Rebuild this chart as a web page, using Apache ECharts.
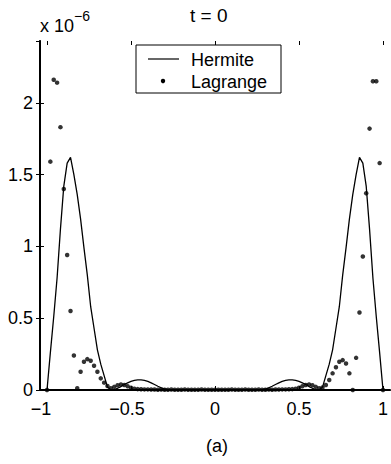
<!DOCTYPE html>
<html>
<head>
<meta charset="utf-8">
<script src="https://cdn.jsdelivr.net/npm/echarts@6/dist/echarts.min.js"></script>
<style>
  html, body { margin: 0; padding: 0; background: #fff; }
  #chart { width: 391px; height: 464px; }
</style>
</head>
<body>
<div id="chart"></div>
<script>
// Sample points on [-1, 1], step 0.02
const xGrid = [
  -1.00, -0.98, -0.96, -0.94, -0.92, -0.90, -0.88, -0.86, -0.84, -0.82,
  -0.80, -0.78, -0.76, -0.74, -0.72, -0.70, -0.68, -0.66, -0.64, -0.62,
  -0.60, -0.58, -0.56, -0.54, -0.52, -0.50, -0.48, -0.46, -0.44, -0.42,
  -0.40, -0.38, -0.36, -0.34, -0.32, -0.30, -0.28, -0.26, -0.24, -0.22,
  -0.20, -0.18, -0.16, -0.14, -0.12, -0.10, -0.08, -0.06, -0.04, -0.02,
   0.00,
   0.02,  0.04,  0.06,  0.08,  0.10,  0.12,  0.14,  0.16,  0.18,  0.20,
   0.22,  0.24,  0.26,  0.28,  0.30,  0.32,  0.34,  0.36,  0.38,  0.40,
   0.42,  0.44,  0.46,  0.48,  0.50,  0.52,  0.54,  0.56,  0.58,  0.60,
   0.62,  0.64,  0.66,  0.68,  0.70,  0.72,  0.74,  0.76,  0.78,  0.80,
   0.82,  0.84,  0.86,  0.88,  0.90,  0.92,  0.94,  0.96,  0.98,  1.00
];

// Interpolation error (units of 1e-6)
const hermiteErr = [
  0, 0.26, 0.51, 0.78, 1.12, 1.42, 1.58, 1.62, 1.50, 1.36,
  1.19, 0.99, 0.80, 0.58, 0.43, 0.28, 0.18, 0.10, 0.02, 0,
  0.003, 0.012, 0.024, 0.038, 0.050, 0.060, 0.067, 0.070, 0.070, 0.067,
  0.060, 0.050, 0.038, 0.026, 0.015, 0.007, 0.002, 0, 0, 0,
  0, 0, 0, 0, 0, 0, 0, 0, 0, 0,
  0,
  0, 0, 0, 0, 0, 0, 0, 0, 0, 0,
  0, 0, 0, 0.002, 0.007, 0.015, 0.026, 0.038, 0.050, 0.060,
  0.067, 0.070, 0.070, 0.067, 0.060, 0.050, 0.038, 0.024, 0.012, 0.003,
  0, 0.02, 0.10, 0.18, 0.28, 0.43, 0.58, 0.80, 0.99, 1.19,
  1.36, 1.50, 1.62, 1.58, 1.42, 1.12, 0.78, 0.51, 0.26, 0
];

const lagrangeErr = [
  0, 1.59, 2.16, 2.14, 1.83, 1.40, 0.94, 0.55, 0.24, 0.012,
  0.127, 0.197, 0.215, 0.204, 0.169, 0.127, 0.081, 0.051, 0.028, 0.012,
  0.022, 0.033, 0.038, 0.035, 0.026, 0.016, 0.009, 0.006, 0.005, 0.004,
  0.004, 0.003, 0.003, 0.002, 0.003, 0.002, 0.002, 0.003, 0.002, 0.002,
  0.002, 0.003, 0.002, 0.002, 0.002, 0.002, 0.003, 0.002, 0.002, 0.002,
  0.002,
  0.002, 0.002, 0.002, 0.002, 0.003, 0.002, 0.002, 0.002, 0.003, 0.002,
  0.002, 0.002, 0.003, 0.002, 0.002, 0.003, 0.002, 0.003, 0.003, 0.004,
  0.004, 0.005, 0.006, 0.009, 0.016, 0.026, 0.035, 0.038, 0.033, 0.022,
  0.012, 0.018, 0.035, 0.070, 0.116, 0.158, 0.197, 0.208, 0.185, 0.116,
  0.0, 0.224, 0.54, 0.93, 1.37, 1.82, 2.15, 2.15, 1.58, 0
];

const xTicks = [-1, -0.5, 0, 0.5, 1];
const yTicks = [0, 0.5, 1, 1.5, 2];
const yMax = 2.43;

const FONT = '"Liberation Sans", Arial, Helvetica, sans-serif';

function pairs(xs, ys) { return xs.map((x, i) => [x, ys[i]]); }

function fmtNum(v) {
  return String(v).replace('-', '\u2212');
}

const chart = echarts.init(document.getElementById('chart'), null, { renderer: 'svg' });

const option = {
  animation: false,
  backgroundColor: '#fff',
  textStyle: { fontFamily: FONT, color: '#000' },
  grid: [
    // frame box
    { left: 40, right: 1, top: 41, bottom: 74, containLabel: false },
    // data area spanning x = -1 .. 1
    { left: 47, right: 8, top: 41, bottom: 74, containLabel: false }
  ],
  xAxis: [
    { gridIndex: 0, type: 'value', position: 'bottom', min: 0, max: 1,
      axisLine: { show: true, lineStyle: { color: '#000', width: 2 } },
      axisTick: { show: false }, axisLabel: { show: false }, splitLine: { show: false } },
    { gridIndex: 0, type: 'value', position: 'top', min: 0, max: 1,
      axisLine: { show: true, lineStyle: { color: '#000', width: 1 } },
      axisTick: { show: false }, axisLabel: { show: false }, splitLine: { show: false } },
    { gridIndex: 1, type: 'value', position: 'bottom', min: xTicks[0], max: xTicks[xTicks.length - 1], interval: 0.5,
      axisLine: { show: false },
      axisTick: { show: true, inside: true, length: 4, lineStyle: { color: '#000', width: 1 } },
      axisLabel: {
        show: true, margin: 10, fontSize: 18, fontFamily: FONT, color: '#000',
        formatter: function (v) {
          if (v === -1) return '{n1|' + fmtNum(v) + '}';
          if (v === -0.5) return '{n2|' + fmtNum(v) + '}';
          return fmtNum(v);
        },
        rich: {
          n1: { fontSize: 18, fontFamily: FONT, color: '#000', padding: [0, 12, 0, 0] },
          n2: { fontSize: 18, fontFamily: FONT, color: '#000', padding: [0, 8, 0, 0] }
        }
      },
      splitLine: { show: false } },
    { gridIndex: 1, type: 'value', position: 'top', min: xTicks[0], max: xTicks[xTicks.length - 1], interval: 0.5,
      axisLine: { show: false },
      axisTick: { show: true, inside: true, length: 4, lineStyle: { color: '#000', width: 1 } },
      axisLabel: { show: false }, splitLine: { show: false } }
  ],
  yAxis: [
    { gridIndex: 0, type: 'value', position: 'left', min: 0, max: yMax, interval: 0.5,
      axisLine: { show: true, lineStyle: { color: '#000', width: 2 } },
      axisTick: { show: true, inside: true, length: 4, lineStyle: { color: '#000', width: 1 } },
      axisLabel: {
        show: true, margin: 7, fontSize: 18, fontFamily: FONT, color: '#000',
        showMaxLabel: false,
        formatter: function (v) { return yTicks.indexOf(v) >= 0 ? String(v) : ''; }
      },
      splitLine: { show: false } },
    { gridIndex: 0, type: 'value', position: 'right', min: 0, max: yMax, interval: 0.5,
      axisLine: { show: true, lineStyle: { color: '#000', width: 1.5 } },
      axisTick: { show: true, inside: true, length: 4, lineStyle: { color: '#000', width: 1 } },
      axisLabel: { show: false }, splitLine: { show: false } },
    { gridIndex: 1, type: 'value', min: 0, max: yMax, show: false }
  ],
  series: [
    {
      name: 'Hermite', type: 'line', xAxisIndex: 2, yAxisIndex: 2,
      data: pairs(xGrid, hermiteErr),
      showSymbol: false, symbol: 'none',
      lineStyle: { color: '#000', width: 1.3 },
      z: 3
    },
    {
      name: 'Lagrange', type: 'scatter', xAxisIndex: 2, yAxisIndex: 2,
      data: pairs(xGrid, lagrangeErr),
      symbol: 'circle', symbolSize: 4.5,
      itemStyle: { color: '#000' },
      z: 4
    }
  ],
  graphic: [
    { type: 'text', left: 190, top: 6, z: 10,
      style: { text: 't = 0', font: '19px ' + FONT, fill: '#000' } },
    { type: 'text', x: 40, y: 26, z: 10,
      style: { text: 'x 10', font: '18px ' + FONT, fill: '#000', textAlign: 'left', textVerticalAlign: 'middle' } },
    { type: 'text', x: 74, y: 16, z: 10,
      style: { text: '\u22126', font: '14px ' + FONT, fill: '#000', textAlign: 'left', textVerticalAlign: 'middle' } },
    { type: 'text', x: 217, y: 446, z: 10,
      style: { text: '(a)', font: '18px ' + FONT, fill: '#000', textAlign: 'center', textVerticalAlign: 'middle' } },
    // legend
    { type: 'rect', z: 20, shape: { x: 136, y: 45, width: 145, height: 48 },
      style: { fill: '#fff', stroke: '#000', lineWidth: 1 } },
    { type: 'line', z: 21, shape: { x1: 148, y1: 59, x2: 179, y2: 59 },
      style: { stroke: '#000', lineWidth: 1.2 } },
    { type: 'circle', z: 21, shape: { cx: 163, cy: 81, r: 2.2 },
      style: { fill: '#000' } },
    { type: 'text', x: 191, y: 60, z: 21,
      style: { text: 'Hermite', font: '18px ' + FONT, fill: '#000', textAlign: 'left', textVerticalAlign: 'middle' } },
    { type: 'text', x: 191, y: 82, z: 21,
      style: { text: 'Lagrange', font: '18px ' + FONT, fill: '#000', textAlign: 'left', textVerticalAlign: 'middle' } }
  ]
};

chart.setOption(option);
</script>
</body>
</html>
